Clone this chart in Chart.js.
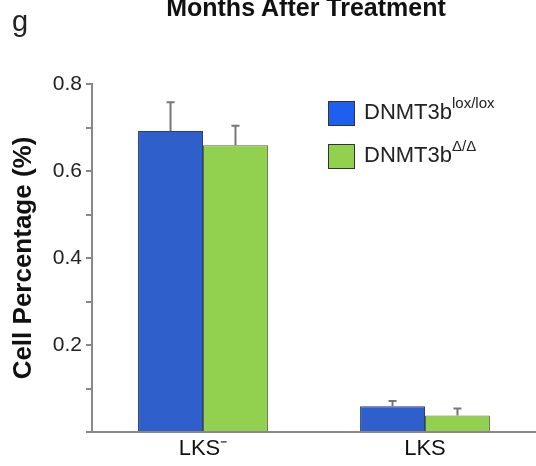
<!DOCTYPE html>
<html>
<head>
<meta charset="utf-8">
<script src="https://cdn.jsdelivr.net/npm/chart.js@4"></script>
<style>
  body { margin: 0; background: #fff; font-family: "Liberation Sans", Arial, sans-serif; }
  #wrap { position: relative; width: 536px; height: 466px; }
  #panel { position: absolute; left: 12px; top: 5px; font-size: 29px; color: #222; }
  #title { position: absolute; left: 0; width: 612px; top: -7px; text-align: center; font-weight: bold; font-size: 25px; color: #111; }
  .leg { position: absolute; left: 328px; font-size: 22px; color: #222; white-space: nowrap; }
  .leg span.box { display: inline-block; width: 25px; height: 23px; border: 1.5px solid #333; vertical-align: middle; margin-right: 9px; }
  .leg sup { font-size: 15px; position: relative; top: -3px; }
</style>
</head>
<body>
<div id="wrap">
  <canvas id="c" width="536" height="466"></canvas>
  <div id="panel">g</div>
  <div id="title">Months After Treatment</div>
  <div class="leg" style="top:97px"><span class="box" style="background:#1f5ff0"></span>DNMT3b<sup>lox/lox</sup></div>
  <div class="leg" style="top:140px"><span class="box" style="background:#92d050"></span>DNMT3b<sup>Δ/Δ</sup></div>
</div>
<script>
const categories = ['LKS\u207B', 'LKS'];
const loxValues = [0.692, 0.059];
const loxErrors = [0.066, 0.012];
const deltaValues = [0.659, 0.038];
const deltaErrors = [0.045, 0.016];
const seriesNames = ['DNMT3b lox/lox', 'DNMT3b \u0394/\u0394'];

// error bars drawn on top of each bar
const errorBars = {
  id: 'errorBars',
  afterDatasetsDraw(chart) {
    const ctx = chart.ctx;
    const y = chart.scales.y;
    ctx.save();
    ctx.strokeStyle = '#777';
    ctx.lineWidth = 2;
    chart.data.datasets.forEach((ds, i) => {
      chart.getDatasetMeta(i).data.forEach((bar, j) => {
        const top = y.getPixelForValue(ds.data[j] + ds.errors[j]);
        ctx.beginPath();
        ctx.moveTo(bar.x, bar.y);
        ctx.lineTo(bar.x, top);
        ctx.moveTo(bar.x - 4, top);
        ctx.lineTo(bar.x + 4, top);
        ctx.stroke();
      });
    });
    ctx.restore();
  }
};

new Chart(document.getElementById('c'), {
  type: 'bar',
  data: {
    labels: categories,
    datasets: [
      { label: seriesNames[0], data: loxValues, errors: loxErrors, backgroundColor: '#2f5fcb', borderColor: '#2a3f7a', borderWidth: 1 },
      { label: seriesNames[1], data: deltaValues, errors: deltaErrors, backgroundColor: '#92d050', borderColor: '#55703a', borderWidth: 1 }
    ]
  },
  options: {
    responsive: false,
    animation: false,
    layout: { padding: { top: 84, right: 0, left: 0, bottom: 0 } },
    plugins: { legend: { display: false }, tooltip: { enabled: false } },
    datasets: { bar: { categoryPercentage: 0.585, barPercentage: 1 } },
    scales: {
      x: {
        grid: { display: false },
        border: { color: '#888', width: 2 },
        ticks: { color: '#111', font: { family: 'Liberation Sans', size: 22 }, padding: -4 },
        afterFit(s) { s.height = 34; }
      },
      y: {
        min: 0, max: 0.8,
        grid: { drawOnChartArea: false, drawTicks: true, tickLength: 6, color: '#888', lineWidth: 2 },
        border: { color: '#888', width: 2 },
        ticks: {
          stepSize: 0.1,
          color: '#222',
          padding: 4,
          font: { family: 'Liberation Sans', size: 21 },
          callback: v => {
            const k = Math.round(v * 10);
            return (k > 0 && k % 2 === 0) ? (k / 10).toFixed(1) : '';
          }
        },
        title: { display: true, text: 'Cell Percentage (%)', color: '#111', font: { family: 'Liberation Sans', size: 26, weight: 'bold' }, padding: { top: 8, bottom: 0 } },
        afterFit(s) { s.width = 92; }
      }
    }
  },
  plugins: [errorBars]
});
</script>
</body>
</html>
